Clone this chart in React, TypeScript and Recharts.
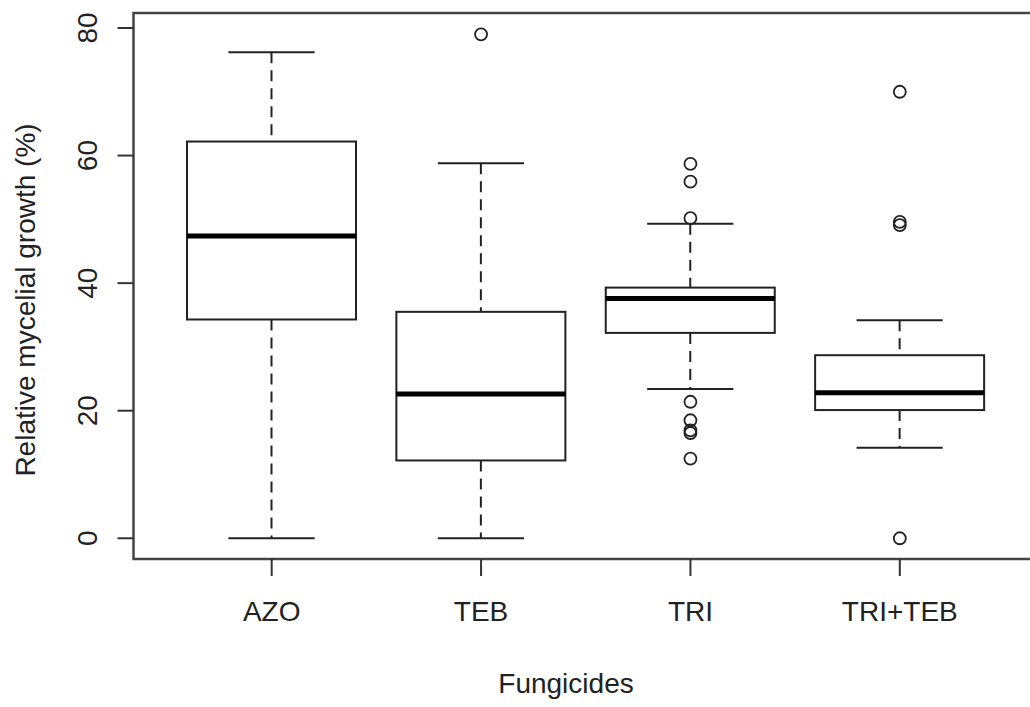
import { ComposedChart, Bar, Scatter, XAxis, YAxis, ReferenceArea, Label } from 'recharts';

// valeurs (boxplot R)
const categories = ['AZO', 'TEB', 'TRI', 'TRI+TEB'];
const whiskerLow = [0, 0, 23.4, 14.2];
const lowerQuartile = [34.3, 12.2, 32.2, 20.1];
const medians = [47.4, 22.6, 37.6, 22.8];
const upperQuartile = [62.2, 35.5, 39.3, 28.7];
const whiskerHigh = [76.2, 58.8, 49.3, 34.2];
const outliers = [
  [],
  [79.0],
  [58.7, 55.9, 50.2, 21.4, 18.5, 16.9, 16.5, 12.5],
  [70.0, 49.6, 49.1, 0],
];
const yTicks = [0, 20, 40, 60, 80];
const xTicks = [1, 2, 3, 4];
const xDomain = [0.34, 4.66];
const yDomain = [-3.25, 82.35];

const boxData = categories.map((name, i) => ({
  pos: i + 1,
  name,
  lo: whiskerLow[i],
  q1: lowerQuartile[i],
  med: medians[i],
  q3: upperQuartile[i],
  hi: whiskerHigh[i],
}));

const outlierData = outliers.flatMap((vals, i) => vals.map((v) => ({ pos: i + 1, value: v })));

const FONT = '"Liberation Sans", Arial, sans-serif';
const FONT_SIZE = 28;
const INK = '#222';

// dessine la boite complete a partir du rectangle [lo, hi] calcule par recharts
const BoxShape = (props: any) => {
  const { x, y, width, height, payload } = props;
  if (!payload || height == null) return null;
  const { lo, q1, med, q3, hi } = payload;
  const py = (v: number) => y + (height * (hi - v)) / (hi - lo);
  const cx = x + width / 2;
  const capHalf = width * 0.255;
  const dash = '11 7';
  return (
    <g>
      <line x1={cx} x2={cx} y1={py(hi)} y2={py(q3)} stroke={INK} strokeWidth={2} strokeDasharray={dash} />
      <line x1={cx} x2={cx} y1={py(q1)} y2={py(lo)} stroke={INK} strokeWidth={2} strokeDasharray={dash} />
      <line x1={cx - capHalf} x2={cx + capHalf} y1={py(hi)} y2={py(hi)} stroke={INK} strokeWidth={2} />
      <line x1={cx - capHalf} x2={cx + capHalf} y1={py(lo)} y2={py(lo)} stroke={INK} strokeWidth={2} />
      <rect x={x} y={py(q3)} width={width} height={py(q1) - py(q3)} fill="#fff" stroke={INK} strokeWidth={2} />
      <line x1={x} x2={x + width} y1={py(med)} y2={py(med)} stroke="#000" strokeWidth={5} />
    </g>
  );
};

const OutlierShape = (props: any) => {
  const { cx, cy } = props;
  if (cx == null || cy == null) return null;
  return <circle cx={cx} cy={cy} r={6} fill="none" stroke={INK} strokeWidth={1.8} />;
};

const XTick = (props: any) => {
  const { x, payload } = props;
  return (
    <text x={x} y={621} textAnchor="middle" fontSize={FONT_SIZE} fontFamily={FONT} fill={INK}>
      {categories[payload.value - 1]}
    </text>
  );
};

const YTick = (props: any) => {
  const { y, payload } = props;
  const tx = 97;
  return (
    <text x={tx} y={y} transform={`rotate(-90, ${tx}, ${y})`} textAnchor="middle" fontSize={FONT_SIZE} fontFamily={FONT} fill={INK}>
      {payload.value}
    </text>
  );
};

export default function App() {
  return (
    <div style={{ position: 'absolute', left: 0, top: 0, width: 1030, height: 707, overflow: 'hidden', background: '#fff' }}>
      <ComposedChart
        width={1060}
        height={707}
        data={boxData}
        margin={{ top: 13, right: 22, bottom: 0, left: 0 }}
      >
        <XAxis
          type="number"
          dataKey="pos"
          domain={xDomain}
          ticks={xTicks}
          allowDataOverflow
          height={148}
          axisLine={false}
          tickSize={17}
          tickLine={{ stroke: '#333', strokeWidth: 2 }}
          tick={<XTick />}
          interval={0}
        >
          <Label
            content={() => (
              <text x={566} y={693} textAnchor="middle" fontSize={FONT_SIZE} fontFamily={FONT} fill={INK}>
                Fungicides
              </text>
            )}
          />
        </XAxis>
        <YAxis
          type="number"
          domain={yDomain}
          ticks={yTicks}
          allowDataOverflow
          width={133.5}
          axisLine={false}
          tickSize={16}
          tickLine={{ stroke: '#333', strokeWidth: 2 }}
          tick={<YTick />}
          interval={0}
        >
          <Label
            content={() => (
              <text x={35} y={300} transform="rotate(-90, 35, 300)" textAnchor="middle" fontSize={FONT_SIZE} fontFamily={FONT} fill={INK}>
                Relative mycelial growth (%)
              </text>
            )}
          />
        </YAxis>
        <ReferenceArea
          x1={xDomain[0]}
          x2={xDomain[1]}
          y1={yDomain[0]}
          y2={yDomain[1]}
          fill="none"
          fillOpacity={0}
          stroke="#444"
          strokeWidth={2.5}
          strokeOpacity={1}
          ifOverflow="visible"
        />
        <Bar
          dataKey={(d: any) => [d.lo, d.hi]}
          barSize={169}
          shape={BoxShape}
          isAnimationActive={false}
        />
        <Scatter data={outlierData} dataKey="value" shape={OutlierShape} isAnimationActive={false} />
      </ComposedChart>
    </div>
  );
}
